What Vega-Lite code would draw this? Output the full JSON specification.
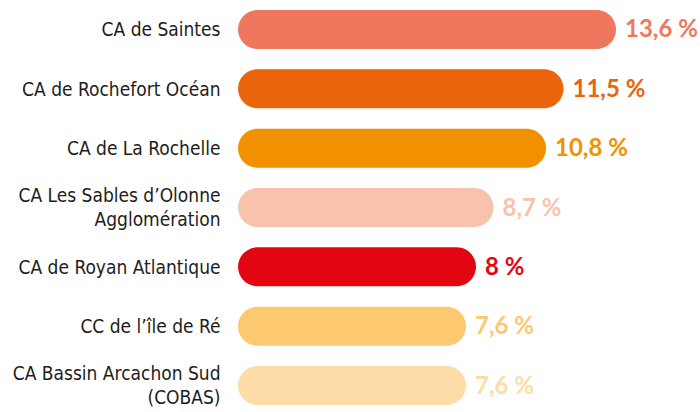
{
  "$schema": "https://vega.github.io/schema/vega-lite/v6.json",
  "width": 462,
  "height": 415,
  "autosize": {"type": "none"},
  "padding": {"left": 238, "top": 0, "right": 0, "bottom": 0},
  "background": "white",
  "config": {"view": {"stroke": null}},
  "data": {
    "values": [
      {"name": "CA de Saintes", "value": 13.6, "text": "13,6 %"},
      {"name": "CA de Rochefort Océan", "value": 11.5, "text": "11,5 %"},
      {"name": "CA de La Rochelle", "value": 10.8, "text": "10,8 %"},
      {"name": "CA Les Sables d’Olonne|Agglomération", "value": 8.7, "text": "8,7 %"},
      {"name": "CA de Royan Atlantique", "value": 8, "text": "8 %"},
      {"name": "CC de l’île de Ré", "value": 7.6, "text": "7,6 %"},
      {"name": "CA Bassin Arcachon Sud\u00a0|(COBAS)", "value": 7.6, "text": "7,6 %"}
    ]
  },
  "encoding": {
    "y": {
      "field": "name",
      "type": "nominal",
      "sort": null,
      "scale": {"paddingInner": 0.343, "paddingOuter": 0.168},
      "axis": {
        "title": null,
        "domain": false,
        "ticks": false,
        "labelPadding": 18,
        "labelOffset": {"condition": {"test": "indexof(datum.value, '|') >= 0", "value": -12}, "value": 1},
        "labelFont": "DejaVu Sans Condensed",
        "labelFontSize": 19,
        "labelColor": "#1d1d1b",
        "labelLineHeight": 24,
        "labelLimit": 300,
        "labelExpr": "split(datum.label, '|')"
      }
    },
    "color": {
      "field": "name",
      "type": "nominal",
      "sort": null,
      "legend": null,
      "scale": {
        "domain": ["CA de Saintes", "CA de Rochefort Océan", "CA de La Rochelle", "CA Les Sables d’Olonne|Agglomération", "CA de Royan Atlantique", "CC de l’île de Ré", "CA Bassin Arcachon Sud\u00a0|(COBAS)"],
        "range": ["#EF775E", "#EA640C", "#F29100", "#F8C2AD", "#E20613", "#FCC971", "#FDDCA8"]
      }
    }
  },
  "layer": [
    {
      "mark": {"type": "bar", "cornerRadius": 19.5},
      "encoding": {
        "x": {"field": "value", "type": "quantitative", "scale": {"domain": [-1.52, 16.96], "zero": false, "nice": false}, "axis": null},
        "x2": {"datum": -1.52}
      }
    },
    {
      "mark": {"type": "text", "align": "left", "baseline": "middle", "dx": 9, "dy": 1, "font": "Lato", "fontWeight": "bold", "fontSize": 24},
      "encoding": {
        "x": {"field": "value", "type": "quantitative"},
        "text": {"field": "text"}
      }
    }
  ]
}
